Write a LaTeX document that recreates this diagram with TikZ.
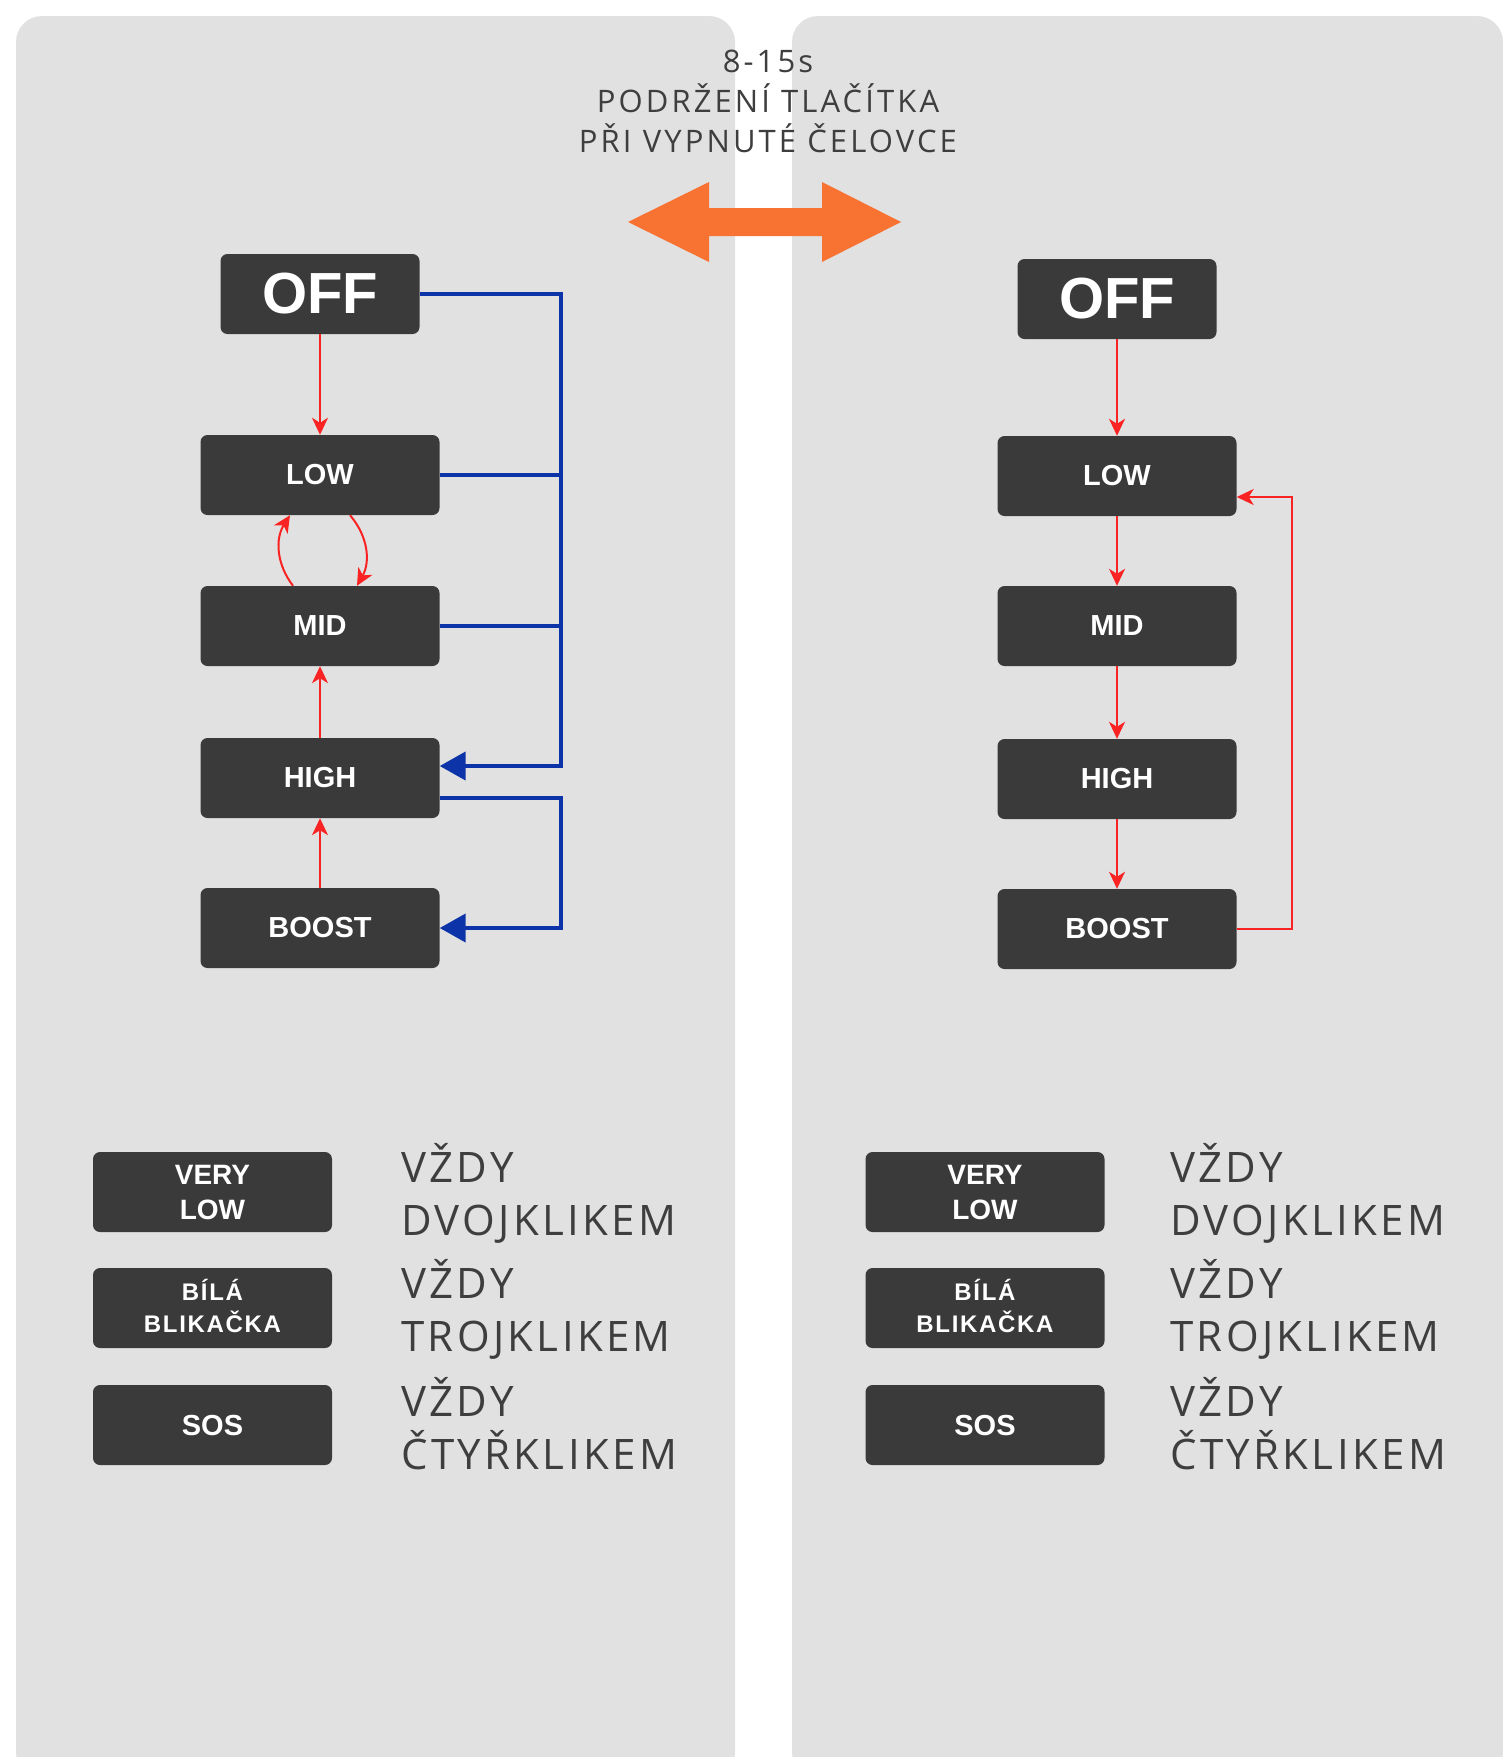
\documentclass[tikz,border=0pt]{standalone}
\usepackage{fontspec}
\setmainfont{Open Sans}
\newfontfamily\labfont{Liberation Sans}
\newfontfamily\spacedtop{Open Sans}[LetterSpace=10]
\newfontfamily\spacedleg{Open Sans}[LetterSpace=8]
\newfontfamily\spacedbox{Liberation Sans}[LetterSpace=7]
\usetikzlibrary{arrows.meta,calc}
\definecolor{panelc}{RGB}{225,225,225}
\definecolor{boxc}{RGB}{58,58,58}
\definecolor{redc}{RGB}{250,35,35}
\definecolor{bluec}{RGB}{12,52,168}
\definecolor{orangec}{RGB}{248,114,50}
\definecolor{textc}{RGB}{62,62,62}
\tikzset{
  mode/.style={fill=boxc, rounded corners=7pt, minimum width=239pt, minimum height=80pt,
    inner sep=0pt, text=white, align=center, font=\labfont\bfseries\fontsize{29}{34}\selectfont},
  offbox/.style={mode, minimum width=199pt, font=\labfont\bfseries\fontsize{58}{68}\selectfont},
  legbox/.style={mode, font=\labfont\bfseries\fontsize{28}{35}\selectfont},
  blikbox/.style={mode, font=\spacedbox\bfseries\fontsize{24}{32}\selectfont},
  redarrow/.style={draw=redc, line width=2pt, -{Stealth[length=17pt,width=16pt,inset=5pt]}},
  bluel/.style={draw=bluec, line width=4.2pt},
  bluearrow/.style={bluel, -{Triangle[length=26pt,width=28pt]}},
  toptext/.style={anchor=base, inner sep=0pt, text=textc, font=\spacedtop\fontsize{31}{40}\selectfont},
  legtext/.style={anchor=base west, inner sep=0pt, text=textc, font=\spacedleg\fontsize{42}{53}\selectfont}
}
\begin{document}
\begin{tikzpicture}[x=1pt,y=-1pt]
\useasboundingbox (0,0) rectangle (1503,1757);
\fill[white] (0,0) rectangle (1503,1757);
\fill[panelc, rounded corners=26pt] (16,16) rectangle (735,1778);
\fill[panelc, rounded corners=26pt] (792,16) rectangle (1503,1778);

% heading
\node[toptext] (t1) at (768,72) {8-15s};
\node[toptext] (t2) at (768,112) {PODRŽENÍ TLAČÍTKA};
\node[toptext] (t3) at (768,152) {PŘI VYPNUTÉ ČELOVCE};

% orange double arrow
\fill[orangec] (628,222) -- (709,182) -- (709,208) -- (822,208) -- (822,182) -- (901,222)
  -- (822,262) -- (822,236) -- (709,236) -- (709,262) -- cycle;

% left diagram
\node[offbox] (offL) at (320,294) {OFF};
\node[mode] (lowL) at (320,475) {LOW};
\node[mode] (midL) at (320,626) {MID};
\node[mode] (highL) at (320,778) {HIGH};
\node[mode] (boostL) at (320,928) {BOOST};

\draw[redarrow] (offL) -- (lowL);
\draw[redarrow] ([xshift=-27pt]midL.north) to[bend left=35] ([xshift=-30pt]lowL.south);
\draw[redarrow] ([xshift=30pt]lowL.south) to[bend left=35] ([xshift=37pt]midL.north);
\draw[redarrow] (highL) -- (midL);
\draw[redarrow] (boostL) -- (highL);

\coordinate (busL) at (561,0);
\coordinate (hinL) at ($(highL.east)+(0,-12)$);
\coordinate (houtL) at ($(highL.east)+(0,20)$);
\draw[bluearrow] (offL.east) -| (busL |- hinL) -- (hinL);
\draw[bluel] (lowL.east) -- (lowL.east -| busL);
\draw[bluel] (midL.east) -- (midL.east -| busL);
\draw[bluearrow] (houtL) -| (busL |- boostL) -- (boostL.east);

% right diagram
\node[offbox] (offR) at (1117,299) {OFF};
\node[mode] (lowR) at (1117,476) {LOW};
\node[mode] (midR) at (1117,626) {MID};
\node[mode] (highR) at (1117,779) {HIGH};
\node[mode] (boostR) at (1117,929) {BOOST};

\draw[redarrow] (offR) -- (lowR);
\draw[redarrow] (lowR) -- (midR);
\draw[redarrow] (midR) -- (highR);
\draw[redarrow] (highR) -- (boostR);
\coordinate (busR) at (1292,0);
\coordinate (linR) at ($(lowR.east)+(0,21)$);
\draw[redarrow] (boostR.east) -| (busR |- linR) -- (linR);

% legend left
\node[legbox] (vlL) at (212.5,1192) {VERY\\LOW};
\node[blikbox] (blL) at (212.5,1308) {\raisebox{0pt}[0.72em][0pt]{BÍLÁ}\\BLIKAČKA};
\node[mode] (sosL) at (212.5,1425) {SOS};
\node[legtext] (l1a) at (401,1182) {VŽDY};
\node[legtext] (l1b) at (401,1235) {DVOJKLIKEM};
\node[legtext] (l2a) at (401,1298) {VŽDY};
\node[legtext] (l2b) at (401,1351) {TROJKLIKEM};
\node[legtext] (l3a) at (401,1416) {VŽDY};
\node[legtext] (l3b) at (401,1469) {ČTYŘKLIKEM};

% legend right
\node[legbox] (vlR) at (985,1192) {VERY\\LOW};
\node[blikbox] (blR) at (985,1308) {\raisebox{0pt}[0.72em][0pt]{BÍLÁ}\\BLIKAČKA};
\node[mode] (sosR) at (985,1425) {SOS};
\node[legtext] (r1a) at (1170,1182) {VŽDY};
\node[legtext] (r1b) at (1170,1235) {DVOJKLIKEM};
\node[legtext] (r2a) at (1170,1298) {VŽDY};
\node[legtext] (r2b) at (1170,1351) {TROJKLIKEM};
\node[legtext] (r3a) at (1170,1416) {VŽDY};
\node[legtext] (r3b) at (1170,1469) {ČTYŘKLIKEM};
\end{tikzpicture}
\end{document}
